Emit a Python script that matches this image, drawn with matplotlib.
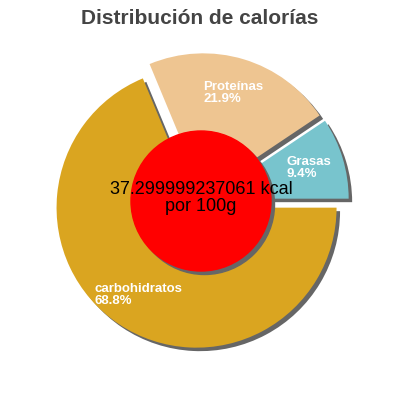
import numpy as np
import matplotlib
matplotlib.use("Agg")
import matplotlib.pyplot as plt

# slice data
labels = ["Grasas", "Proteínas", "carbohidratos"]
shares = [9.4, 21.9, 68.8]
colors = ["#78c4cd", "#eec591", "#daa520"]
kcal_text = "37.299999237061 kcal\npor 100g"
title = "Distribución de calorías"

plt.rcParams['font.family'] = ['Liberation Sans', 'DejaVu Sans']

R = 140.0          # pie radius in px
explode = 8 / R    # each slice pulled out ~8px
sh = 3.5 / R       # drop shadow offset

fig = plt.figure(figsize=(4, 4), dpi=100)
ax = fig.add_axes([0, 0, 1, 1])

# shadow pass, then coloured pass
ax.pie(shares, colors=["#666666"] * 3, explode=[explode] * 3, startangle=0,
       counterclock=True, center=(sh, -sh), radius=1, normalize=True)
wedges, _ = ax.pie(shares, colors=colors, explode=[explode] * 3, startangle=0,
                   counterclock=True, center=(0, 0), radius=1, normalize=True)

for w, lab, s in zip(wedges, labels, shares):
    mid = np.deg2rad((w.theta1 + w.theta2) / 2)
    cx, cy = w.center
    ax.text(cx + 0.75 * np.cos(mid), cy + 0.75 * np.sin(mid), f"{lab}\n{s}%",
            ha="center", va="center", multialignment="left", color="white",
            fontsize=9.5, fontweight="bold", linespacing=0.95)

# centre disc with its shadow
ax.add_patch(plt.Circle((sh, -sh), 0.5, color="#666666", zorder=3))
ax.add_patch(plt.Circle((0, 0), 0.5, color="#ff0000", zorder=4))
ax.text(0, 0.02, kcal_text, ha="center", va="center", fontsize=13,
        color="black", zorder=5, linespacing=1.0)

ax.set_xlim(-201 / R, 199 / R)
ax.set_ylim(-199 / R, 201 / R)
ax.set_aspect("equal")
ax.axis("off")

fig.text(0.5, 0.955, title, ha="center", va="center", fontsize=15,
         fontweight="bold", color="#444444")

fig.savefig("out.png", dpi=100)
